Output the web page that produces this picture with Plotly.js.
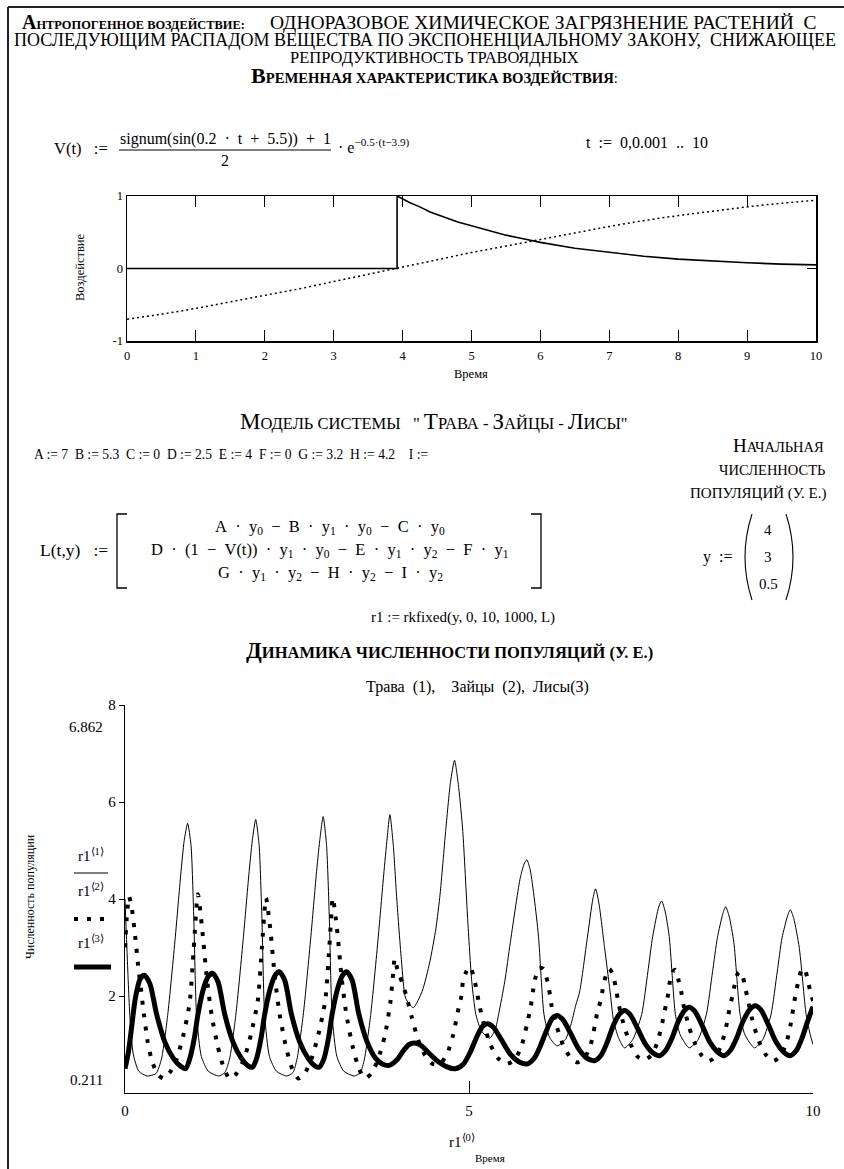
<!DOCTYPE html>
<html><head><meta charset="utf-8">
<script src="https://cdn.plot.ly/plotly-3.0.1.min.js"></script>
<style>html,body{margin:0;padding:0;background:#fff}#chart{width:844px;height:1169px}</style>
</head><body><div id="chart"></div>
<script>
// ---------- DATA ----------
// Top chart: V(t) (solid) and sin(0.2t+5.5) (dotted)
const impactTime  = [0, 3.92, 3.92, 4.0, 4.1, 4.25, 4.4, 4.6, 4.8, 5.0, 5.25, 5.5, 5.75, 6.0, 6.5, 7.0, 7.5, 8.0, 8.5, 9.0, 9.5, 10.0];
const impactValue = [0, 0, 1.0, 0.96, 0.91, 0.85, 0.78, 0.71, 0.64, 0.59, 0.52, 0.46, 0.41, 0.36, 0.28, 0.22, 0.17, 0.13, 0.10, 0.08, 0.06, 0.05];
const sineTime  = [0, 0.5, 1, 1.5, 2, 2.5, 3, 3.5, 4, 4.5, 5, 5.5, 6, 6.5, 7, 7.5, 8, 8.5, 9, 9.5, 10];
const sineValue = [-0.70, -0.63, -0.55, -0.46, -0.37, -0.28, -0.18, -0.08, 0.02, 0.12, 0.22, 0.31, 0.40, 0.49, 0.58, 0.66, 0.73, 0.79, 0.85, 0.90, 0.94];
const topXTicks = [0,1,2,3,4,5,6,7,8,9,10];
const topYTicks = [-1, 0, 1];
const topYTickText = ['-1', '0', '1'];

// Bottom chart: r1<1> grass (thin), r1<2> hares (dots), r1<3> foxes (thick)
const grassT = [0.00,0.03,0.07,0.12,0.20,0.32,0.45,
  0.53,0.62,0.73,0.81,0.86,0.91,0.96,1.00,1.04,1.11,1.21,1.36,1.45,
  1.52,1.61,1.72,1.80,1.85,1.90,1.95,1.99,2.03,2.10,2.20,2.35,2.44,
  2.50,2.59,2.70,2.78,2.83,2.88,2.93,2.97,3.01,3.08,3.18,3.33,3.42,
  3.48,3.57,3.68,3.76,3.81,3.85,3.90,3.95,4.02,4.08,4.19,4.32,4.43,4.52,4.58,4.66,4.73,4.79,4.85,4.91,4.98,5.04,5.10,5.18,5.30,5.38,5.43,5.52,5.60,5.74,5.80,5.84,5.89,5.95,6.01,6.09,6.17,6.28,6.40,6.48,6.55,6.61,6.72,6.80,6.84,6.89,6.97,7.05,7.10,7.17,7.26,7.38,7.51,7.60,7.67,7.76,7.80,7.85,7.91,8.00,8.07,8.20,8.33,8.45,8.54,8.61,8.69,8.73,8.78,8.85,8.94,9.01,9.15,9.27,9.39,9.48,9.55,9.63,9.67,9.72,9.80,9.90,9.96,10.00];
const grassV = [4.00,2.90,1.60,0.80,0.45,0.35,0.40,
  0.70,1.60,3.20,4.50,5.20,5.56,5.10,3.60,1.60,0.75,0.45,0.35,0.42,
  0.70,1.60,3.20,4.50,5.20,5.64,5.10,3.60,1.60,0.75,0.45,0.35,0.42,
  0.70,1.60,3.20,4.50,5.20,5.70,5.10,3.60,1.60,0.75,0.45,0.35,0.42,
  0.70,1.60,3.20,4.50,5.25,5.74,5.10,4.00,2.70,1.95,1.76,2.10,2.70,3.40,4.10,5.39,6.40,6.86,6.30,5.39,3.60,2.30,1.62,1.28,1.13,1.30,1.62,2.30,3.10,4.40,4.72,4.81,4.60,4.00,3.23,1.62,1.15,0.97,1.10,1.40,1.80,2.10,3.20,4.00,4.21,3.90,3.00,2.10,1.50,1.15,0.93,1.10,1.62,2.50,3.23,3.85,3.96,3.75,3.23,1.62,1.20,0.93,1.10,1.62,2.50,3.20,3.70,3.84,3.65,3.10,1.62,1.20,0.93,1.10,1.62,2.50,3.20,3.65,3.78,3.60,3.00,1.62,1.20,1.00];

const hareT = [0.00,0.03,0.06,0.10,0.15,0.19,0.26,0.33,0.40,0.48,0.56,
  0.65,0.75,0.85,0.94,1.00,1.06,1.12,1.19,1.26,1.35,1.44,1.52,
  1.62,1.73,1.83,1.93,1.99,2.05,2.11,2.18,2.25,2.34,2.43,2.52,
  2.61,2.71,2.81,2.91,2.97,3.02,3.08,3.15,3.22,3.31,3.40,3.49,
  3.58,3.68,3.78,3.86,3.89,3.92,3.95,3.99,4.03,4.09,4.17,4.26,4.36,4.47,4.58,
  4.68,4.77,4.85,4.89,4.91,4.96,5.02,5.07,5.11,5.14,5.22,5.31,5.42,5.55,
  5.66,5.76,5.84,5.90,5.93,5.97,6.02,6.08,6.14,6.18,6.20,6.28,6.37,6.48,6.58,
  6.68,6.77,6.83,6.87,6.92,6.95,6.99,7.04,7.09,7.13,7.18,7.26,7.35,7.45,7.55,
  7.65,7.74,7.81,7.86,7.89,7.92,7.96,8.00,8.05,8.09,8.12,8.20,8.29,8.39,8.49,
  8.59,8.68,8.75,8.79,8.83,8.86,8.90,8.94,8.98,9.01,9.05,9.12,9.21,9.31,9.42,
  9.52,9.61,9.68,9.73,9.76,9.79,9.84,9.88,9.92,9.96,10.00];
const hareV = [3.00,3.70,4.05,3.80,3.20,2.64,1.80,1.05,0.62,0.38,0.30,
  0.42,0.70,1.20,1.86,3.00,4.10,3.40,2.36,1.60,0.95,0.50,0.30,
  0.40,0.70,1.20,1.90,3.00,4.02,3.40,2.36,1.60,0.95,0.50,0.30,
  0.40,0.70,1.20,1.90,3.00,4.02,3.40,2.36,1.60,0.95,0.50,0.30,
  0.40,0.70,1.20,1.90,2.35,2.77,2.60,2.43,2.27,2.00,1.55,1.10,0.78,0.60,0.60,
  0.80,1.20,1.76,2.00,2.27,2.50,2.60,2.38,2.13,1.88,1.40,1.00,0.72,0.60,
  0.68,0.95,1.40,1.80,2.10,2.40,2.58,2.56,2.30,2.00,1.80,1.35,0.98,0.72,0.63,
  0.72,1.00,1.40,1.70,1.93,2.20,2.42,2.56,2.45,2.20,1.80,1.35,1.00,0.75,0.68,
  0.78,1.05,1.45,1.80,2.00,2.30,2.50,2.54,2.30,2.05,1.80,1.35,1.00,0.76,0.66,
  0.76,1.05,1.45,1.77,2.00,2.22,2.45,2.50,2.40,2.20,1.95,1.50,1.08,0.80,0.66,
  0.75,1.02,1.45,1.90,2.10,2.35,2.55,2.56,2.35,2.10,1.90];

const foxT = [0.00,0.05,0.10,0.15,0.22,0.28,0.36,0.46,0.58,0.70,0.80,0.88,
  0.94,1.01,1.06,1.14,1.21,1.27,1.35,1.45,1.57,1.69,1.79,1.85,
  1.91,1.98,2.03,2.11,2.18,2.24,2.32,2.42,2.54,2.66,2.76,2.82,
  2.89,2.96,3.01,3.09,3.16,3.22,3.30,3.40,3.52,3.64,3.74,3.84,
  3.95,4.05,4.13,4.21,4.30,4.42,4.55,4.68,4.80,
  4.92,5.02,5.12,5.20,5.27,5.35,5.47,5.60,5.73,5.85,
  5.95,6.04,6.13,6.21,6.28,6.36,6.47,6.59,6.71,6.83,
  6.92,7.01,7.10,7.19,7.26,7.34,7.45,7.56,7.67,7.77,
  7.86,7.95,8.04,8.13,8.20,8.28,8.39,8.50,8.61,8.71,
  8.80,8.89,8.98,9.08,9.16,9.24,9.35,9.46,9.57,9.67,
  9.76,9.84,9.92,10.00];
const foxV = [0.50,0.85,1.40,1.95,2.35,2.43,2.26,1.62,1.05,0.72,0.56,0.50,
  0.70,1.15,1.62,2.15,2.40,2.47,2.30,1.62,1.05,0.72,0.56,0.53,
  0.70,1.15,1.62,2.15,2.42,2.50,2.33,1.62,1.05,0.72,0.56,0.53,
  0.70,1.15,1.62,2.15,2.42,2.50,2.33,1.62,1.05,0.72,0.60,0.57,
  0.68,0.88,1.00,1.03,0.98,0.82,0.65,0.54,0.50,
  0.60,0.85,1.18,1.38,1.43,1.36,1.10,0.80,0.64,0.60,
  0.72,0.98,1.30,1.54,1.60,1.52,1.25,0.92,0.72,0.67,
  0.78,1.05,1.40,1.63,1.70,1.62,1.33,1.02,0.83,0.77,
  0.88,1.13,1.47,1.70,1.77,1.69,1.39,1.05,0.85,0.77,
  0.88,1.13,1.47,1.72,1.80,1.72,1.41,1.06,0.85,0.77,
  0.88,1.13,1.47,1.78];

const bottomXTicks = [0, 5, 10];
const bottomYTicks = [2, 4, 6, 8];
const bottomMax = '6.862';
const bottomMin = '0.211';

// ---------- LAYOUT HELPERS ----------
const W = 844, H = 1169;
const FONT = '"Liberation Serif", "Times New Roman", Times, serif';
const NB = '\u00a0';
const px = x => x / W;
const py = y => 1 - y / H;
const wide = s => s.replace(/ /g, NB + NB);   // Mathcad-like wide operator spacing
function T(text, x, y, size, xanchor, extra) {
  return Object.assign({
    text: text, x: px(x), y: py(y), xref: 'paper', yref: 'paper',
    showarrow: false, xanchor: xanchor || 'center', yanchor: 'middle',
    font: {family: FONT, size: size, color: '#000'}
  }, extra || {});
}
function L(x0, y0, x1, y1, w, dash, color) {
  return {type: 'line', xref: 'paper', yref: 'paper',
    x0: px(x0), y0: py(y0), x1: px(x1), y1: py(y1),
    line: {color: color || '#000', width: w, dash: dash || 'solid'}};
}
function P(d, w) {
  return {type: 'path', xref: 'paper', yref: 'paper', path: d, line: {color: '#000', width: w}};
}
const sc = (big, rest, bs) => '<span style="font-size:' + bs + 'px">' + big + '</span>' + rest;

const annotations = [
  // header
  T('<b>' + sc('А', 'НТРОПОГЕННОЕ ВОЗДЕЙСТВИЕ:', 20) + '</b>', 20, 22, 12.4, 'left'),
  T('ОДНОРАЗОВОЕ ХИМИЧЕСКОЕ ЗАГРЯЗНЕНИЕ РАСТЕНИЙ  С', 268, 23, 19.5, 'left'),
  T('ПОСЛЕДУЮЩИМ РАСПАДОМ ВЕЩЕСТВА ПО ЭКСПОНЕНЦИАЛЬНОМУ ЗАКОНУ,  СНИЖАЮЩЕЕ', 12, 40, 18, 'left'),
  T('РЕПРОДУКТИВНОСТЬ ТРАВОЯДНЫХ', 434, 57, 16.5),
  T('<b>' + sc('В', 'РЕМЕННАЯ ХАРАКТЕРИСТИКА ВОЗДЕЙСТВИЯ', 22) + '</b>:', 434, 76, 14.7),
  // formula V(t)
  T('V(t)' + NB + NB + NB + ':=', 110, 149, 16.5, 'right'),
  T(wide('signum(sin(0.2 · t + 5.5)) + 1'), 225, 139, 16),
  T('2', 225, 161, 16),
  T('·' + NB + 'e<sup>−0.5·(t−3.9)</sup>', 336, 146, 16, 'left'),
  T(wide('t := 0,0.001 .. 10'), 584, 143, 16, 'left'),
  // top chart titles
  T('Время', 471, 374, 12.5),
  T('Воздействие', 80, 268, 12.5, 'center', {textangle: -90}),
  // model
  T(sc('М', 'ОДЕЛЬ СИСТЕМЫ', 23) + NB + NB + NB + '"' + NB + sc('Т', 'РАВА', 23) + ' - ' + sc('З', 'АЙЦЫ', 23) + ' - ' + sc('Л', 'ИСЫ', 23) + '"', 434, 421, 16.5),
  T('A := 7  B := 5.3  C := 0  D := 2.5  E := 4  F := 0  G := 3.2  H := 4.2    I :='.replace(/  /g, NB + NB), 32, 454, 13.6, 'left'),
  T(sc('Н', 'АЧАЛЬНАЯ', 19), 778, 446, 14.5),
  T('ЧИСЛЕННОСТЬ', 772, 470, 14.5),
  T('ПОПУЛЯЦИЙ' + NB + '(У.' + NB + 'Е.)', 758, 493, 15),
  T('L(t,y)' + NB + NB + NB + ':=', 110, 550, 17.5, 'right'),
  T(wide('A · y<sub>0</sub> − B · y<sub>1</sub> · y<sub>0</sub> − C · y<sub>0</sub>'), 330, 527, 16.5),
  T(wide('D · (1 − V(t)) · y<sub>1</sub> · y<sub>0</sub> − E · y<sub>1</sub> · y<sub>2</sub> − F · y<sub>1</sub>'), 330, 550, 16.5),
  T(wide('G · y<sub>1</sub> · y<sub>2</sub> − H · y<sub>2</sub> − I · y<sub>2</sub>'), 330, 573, 16.5),
  T(wide('y :='), 734, 557, 16, 'right'),
  T('4', 768, 530, 15),
  T('3', 768, 557, 15),
  T('0.5', 768, 584, 15),
  T('r1 := rkfixed(y, 0, 10, 1000, L)', 463, 617, 15),
  T('<b>' + sc('Д', 'ИНАМИКА ЧИСЛЕННОСТИ ПОПУЛЯЦИЙ (У. Е.)', 23) + '</b>', 449, 651, 16.5),
  T('Трава (1),  Зайцы (2), Лисы(3)'.replace(/ /g, NB + NB), 477, 687, 16),
  // bottom chart decorations
  T(bottomMax, 105, 727, 15, 'right'),
  T(bottomMin, 105, 1080, 15, 'right'),
  T('Численность популяции', 30, 897, 12, 'center', {textangle: -90}),
  T('r1<sup>⟨1⟩</sup>', 91, 855, 15),
  T('r1<sup>⟨2⟩</sup>', 91, 890, 15),
  T('r1<sup>⟨3⟩</sup>', 91, 942, 15),
  T('r1<sup>⟨0⟩</sup>', 462, 1141, 15),
  T('Время', 490, 1158, 11)
];

const shapes = [
  L(8, 7, 8, 1169, 2, 'solid', '#222'),
  L(8, 7, 844, 7, 2, 'solid', '#222'),
  L(119, 150, 331, 150, 1),
  // matrix brackets
  P('M' + px(127) + ',' + py(514) + ' L' + px(117) + ',' + py(514) + ' L' + px(117) + ',' + py(588) + ' L' + px(127) + ',' + py(588), 1.3),
  P('M' + px(531) + ',' + py(514) + ' L' + px(541) + ',' + py(514) + ' L' + px(541) + ',' + py(588) + ' L' + px(531) + ',' + py(588), 1.3),
  // vector parens
  P('M' + px(752) + ',' + py(514) + ' Q' + px(738) + ',' + py(557) + ' ' + px(752) + ',' + py(600), 1.1),
  P('M' + px(786) + ',' + py(514) + ' Q' + px(800) + ',' + py(557) + ' ' + px(786) + ',' + py(600), 1.1),
  // legend samples
  L(74, 873, 108, 873, 1),
  L(74, 919, 106, 919, 4, '4px,9px'),
  L(74, 967, 111, 967, 5)
];

const data = [
  {x: impactTime, y: impactValue, xaxis: 'x', yaxis: 'y', mode: 'lines',
   line: {color: '#000', width: 1.6}, hoverinfo: 'skip'},
  {x: sineTime, y: sineValue, xaxis: 'x', yaxis: 'y', mode: 'lines',
   line: {color: '#000', width: 1.5, dash: '2px,3px', shape: 'spline'}, hoverinfo: 'skip'},
  {x: grassT, y: grassV, xaxis: 'x2', yaxis: 'y2', mode: 'lines',
   line: {color: '#000', width: 1, shape: 'spline', smoothing: 0.6}, hoverinfo: 'skip'},
  {x: hareT, y: hareV, xaxis: 'x2', yaxis: 'y2', mode: 'lines',
   line: {color: '#000', width: 4, dash: '4px,9px', shape: 'spline', smoothing: 0.6}, hoverinfo: 'skip'},
  {x: foxT, y: foxV, xaxis: 'x2', yaxis: 'y2', mode: 'lines',
   line: {color: '#000', width: 5, shape: 'spline', smoothing: 0.8}, hoverinfo: 'skip'}
];

const tickFont = {family: FONT, size: 12.5, color: '#000'};
const layout = {
  width: W, height: H, margin: {l: 0, r: 0, t: 0, b: 0},
  paper_bgcolor: '#fff', plot_bgcolor: '#fff', showlegend: false,
  xaxis: {domain: [px(127), px(816)], range: [0, 10], anchor: 'y',
    tickvals: topXTicks, ticks: 'inside', ticklen: 11, tickcolor: '#000', tickwidth: 1,
    showline: true, linecolor: '#000', linewidth: 1.5, mirror: 'ticks',
    showgrid: false, zeroline: false, tickfont: tickFont, ticklabelstandoff: 2},
  yaxis: {domain: [py(341), py(196)], range: [-1, 1], anchor: 'x',
    tickvals: topYTicks, ticktext: topYTickText, ticks: 'inside', ticklen: 9, tickcolor: '#000',
    showline: true, linecolor: '#000', linewidth: 1.5, mirror: 'ticks',
    showgrid: false, zeroline: false, tickfont: tickFont},
  xaxis2: {domain: [px(125), px(813)], range: [0, 10], anchor: 'y2',
    tickvals: bottomXTicks, ticks: 'inside', ticklen: 12, tickcolor: '#000',
    showline: true, linecolor: '#000', linewidth: 1.3,
    showgrid: false, zeroline: false, tickfont: {family: FONT, size: 15, color: '#000'}, ticklabelstandoff: 4},
  yaxis2: {domain: [py(1093), py(705)], range: [0, 8], anchor: 'x2',
    tickvals: bottomYTicks, ticks: 'outside', ticklen: 5, tickcolor: '#000',
    showline: true, linecolor: '#000', linewidth: 1.3,
    showgrid: false, zeroline: false, tickfont: {family: FONT, size: 15, color: '#000'}},
  annotations: annotations,
  shapes: shapes
};

Plotly.newPlot('chart', data, layout, {displayModeBar: false, staticPlot: true});
</script>
</body></html>
